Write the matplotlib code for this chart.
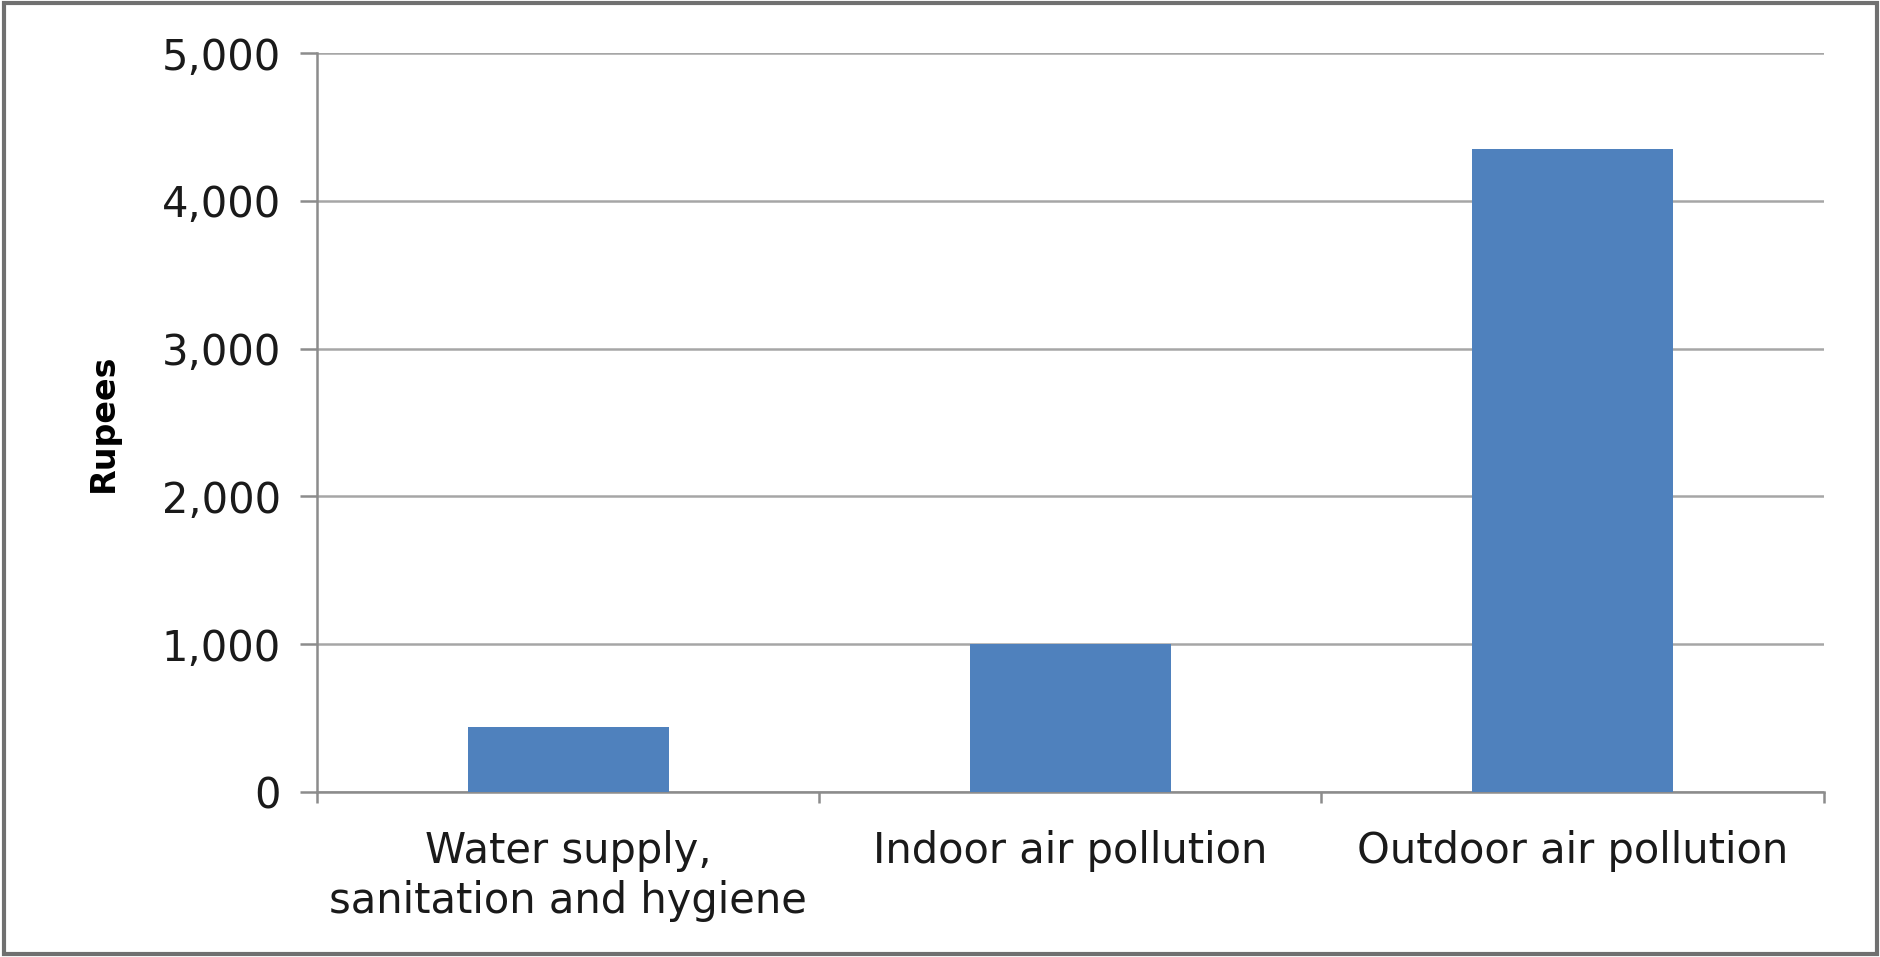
import matplotlib.pyplot as plt
import matplotlib.patches as patches
import numpy as np

# 데이터
categories = ['Water supply,\nsanitation and hygiene', 'Indoor air pollution', 'Outdoor air pollution']
values = [440, 1000, 4350]
yticks = [0, 1000, 2000, 3000, 4000, 5000]

fig = plt.figure(figsize=(18.81, 9.57), dpi=100)
ax = fig.add_axes([0.1685, 0.1724, 0.801, 0.772])

x = np.arange(len(categories))
ax.bar(x, values, width=0.4, color='#4F81BD', zorder=3)

ax.set_xlim(-0.5, len(categories) - 0.5)
ax.set_ylim(0, 5000)
ax.set_yticks(yticks)
ax.set_yticklabels(['{:,}'.format(v) for v in yticks])
ax.set_xticks(x)
ax.set_xticklabels(categories, linespacing=1.25)
ax.set_xticks(np.arange(-0.5, len(categories)), minor=True)

gray = '#8c8c8c'
ax.yaxis.grid(True, color='#a6a6a6', linewidth=1.8, zorder=0)
ax.set_axisbelow(True)
for s in ['top', 'right']:
    ax.spines[s].set_visible(False)
for s in ['left', 'bottom']:
    ax.spines[s].set_color(gray)
    ax.spines[s].set_linewidth(1.8)

ax.tick_params(axis='y', length=12, width=1.8, color=gray, pad=14, labelsize=30, labelcolor='#1a1a1a')
ax.tick_params(axis='x', which='major', length=0, pad=27, labelsize=30, labelcolor='#1a1a1a')
ax.tick_params(axis='x', which='minor', length=8, width=1.8, color=gray)

ax.set_ylabel('Rupees', fontsize=24, fontweight='bold', labelpad=30)

# 바깥 테두리
fig.patches.append(patches.Rectangle((0.002, 0.003), 0.996, 0.994, transform=fig.transFigure,
                                     fill=False, edgecolor='#707070', linewidth=3))

fig.savefig('out.png', dpi=100)
